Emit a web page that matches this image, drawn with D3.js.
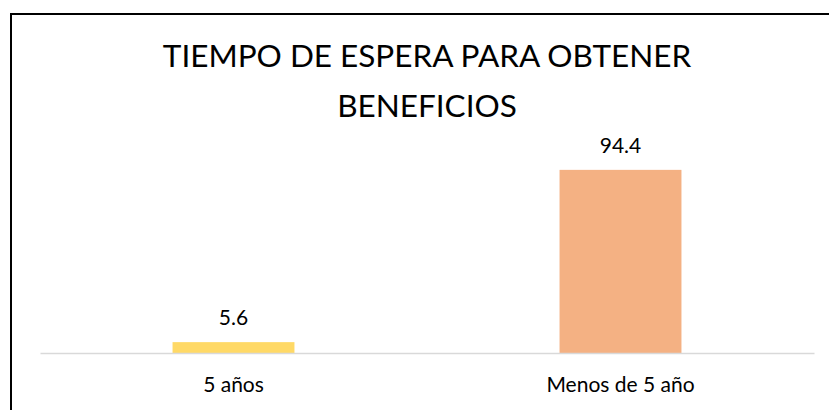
<!DOCTYPE html>
<html>
<head>
<meta charset="utf-8">
<script src="https://cdn.jsdelivr.net/npm/d3@7"></script>
<style>
  html, body { margin: 0; padding: 0; background: #fff; }
  svg { display: block; }
  text { font-family: Lato, "Open Sans", sans-serif; fill: #000; }
</style>
</head>
<body>
<svg id="chart" width="829" height="410"></svg>
<script>
const categories = ["5 años", "Menos de 5 año"];
const values = [5.6, 94.4];
const colors = ["#FFD966", "#F4B183"];
const titleLines = ["TIEMPO DE ESPERA PARA OBTENER", "BENEFICIOS"];

const svg = d3.select("#chart");
const W = 829, H = 410;

// outer frame
svg.append("rect")
  .attr("x", 11).attr("y", 14)
  .attr("width", W + 20).attr("height", H + 20)
  .attr("fill", "#fff").attr("stroke", "#000").attr("stroke-width", 2);

const plot = { left: 40, right: 814, top: 159, bottom: 353 };

const x = d3.scaleBand()
  .domain(categories)
  .range([plot.left, plot.right])
  .paddingInner(0.685)
  .paddingOuter(0.3425);

const y = d3.scaleLinear()
  .domain([0, 100])
  .range([plot.bottom, plot.top]);

// title
const title = svg.append("text")
  .attr("text-anchor", "middle")
  .style("font-size", "31.5px");
titleLines.forEach((t, i) => {
  title.append("tspan")
    .attr("x", 427)
    .attr("y", 67 + i * 50)
    .text(t);
});

// bars
svg.selectAll("rect.bar")
  .data(values)
  .join("rect")
  .attr("class", "bar")
  .attr("x", (d, i) => x(categories[i]))
  .attr("y", d => y(d))
  .attr("width", x.bandwidth())
  .attr("height", d => y(0) - y(d))
  .attr("fill", (d, i) => colors[i]);

// x axis
const xAxis = svg.append("g")
  .attr("transform", `translate(0,${plot.bottom})`)
  .call(d3.axisBottom(x).tickSize(0).tickPadding(24));
xAxis.select(".domain").attr("stroke", "#d9d9d9").attr("stroke-width", 1.5);
xAxis.selectAll(".tick text")
  .style("font-family", "Lato, 'Open Sans', sans-serif")
  .style("font-size", "21px")
  .attr("fill", "#000");

// data labels
svg.selectAll("text.lbl")
  .data(values)
  .join("text")
  .attr("class", "lbl")
  .attr("text-anchor", "middle")
  .attr("x", (d, i) => x(categories[i]) + x.bandwidth() / 2)
  .attr("y", d => y(d) - 17)
  .style("font-size", "21px")
  .text(d => d.toFixed(1));
</script>
</body>
</html>
